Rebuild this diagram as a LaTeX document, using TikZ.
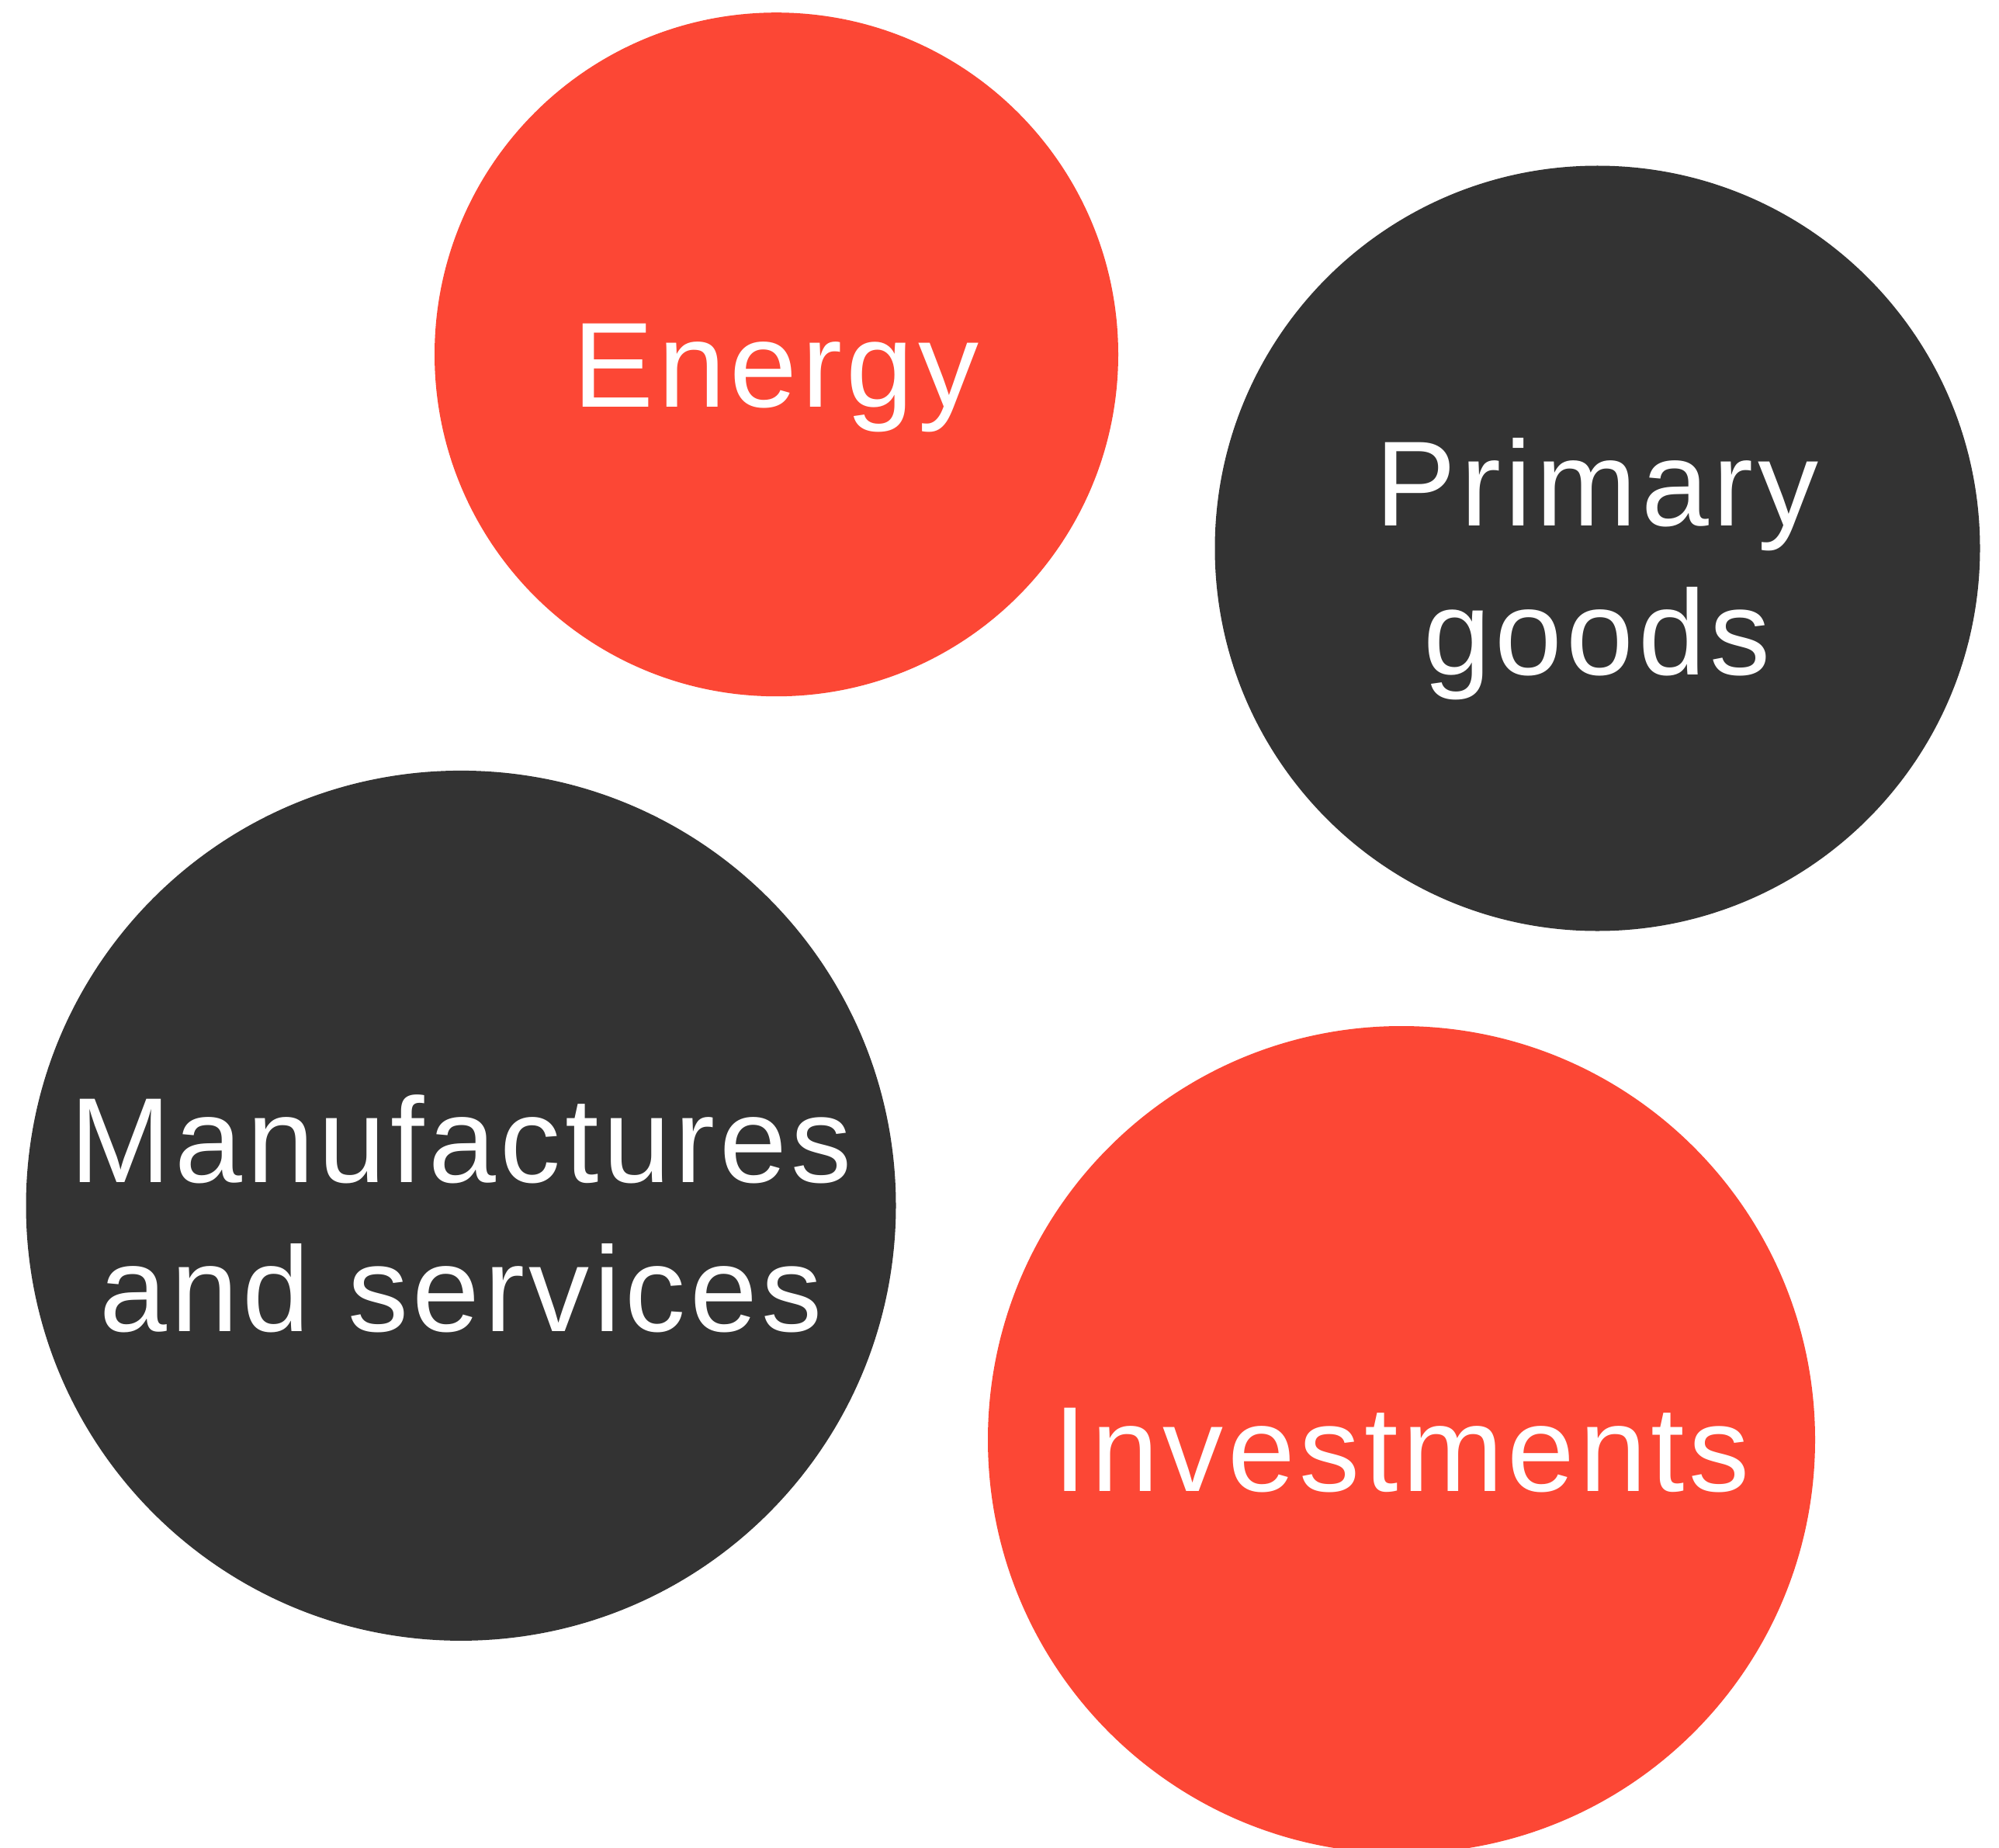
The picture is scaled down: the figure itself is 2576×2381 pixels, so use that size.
\documentclass[tikz,border=0pt]{standalone}
\usepackage{fontspec}
\setmainfont{Liberation Sans}[LetterSpace=3.6]
\definecolor{bubblered}{HTML}{FC4735}
\definecolor{bubbledark}{HTML}{333333}
\begin{document}
\begin{tikzpicture}[x=1pt,y=-1pt,
  bubble/.style={circle, inner sep=0pt, draw=none},
  redbubble/.style={bubble, fill=bubblered},
  darkbubble/.style={bubble, fill=bubbledark},
  lbl/.style={text=white, anchor=base, inner sep=0pt, font=\fontsize{156}{192}\selectfont}]
\useasboundingbox (0,0) rectangle (2576,2381);
\clip (0,0) rectangle (2576,2381);
\fill[white] (0,0) rectangle (2576,2381);
\node[redbubble, minimum size=881pt] (energy) at (1000.5,456.7) {};
\node[darkbubble, minimum size=986pt] (primary) at (2058.5,706.5) {};
\node[darkbubble, minimum size=1121pt] (manuf) at (594,1553.4) {};
\node[redbubble, minimum size=1066pt] (invest) at (1806,1855) {};
\node[lbl] (energyT) at (1000,524) {Energy};
\node[lbl] (primT1) at (2058,677) {Primary};
\node[lbl] (primT2) at (2058,869) {goods};
\node[lbl] (manT1) at (594,1523) {Manufactures};
\node[lbl] (manT2) at (594,1715) {and services};
\node[lbl] (invT) at (1806,1921) {Investments};
\end{tikzpicture}
\end{document}
